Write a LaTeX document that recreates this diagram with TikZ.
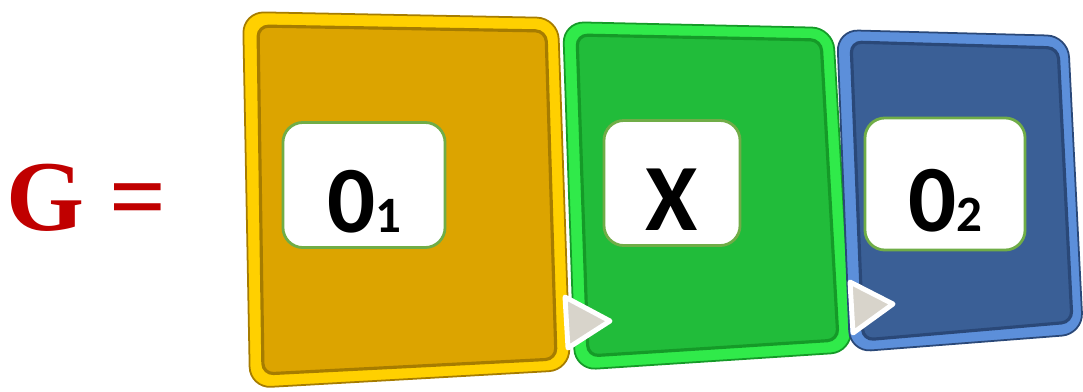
\documentclass[tikz,border=0pt]{standalone}
\usepackage{fontspec}
\setmainfont{Liberation Serif}
\newfontfamily\tagfont{Carlito}

\definecolor{gred}{HTML}{C00000}
\definecolor{yellowrim}{HTML}{FFD000}
\definecolor{yellowface}{HTML}{DCA400}
\definecolor{yellowdark}{HTML}{A67C00}
\definecolor{greenrim}{HTML}{30EA4A}
\definecolor{greenface}{HTML}{21BC3A}
\definecolor{greendark}{HTML}{159A28}
\definecolor{bluerim}{HTML}{5C8FDA}
\definecolor{blueface}{HTML}{3A5F96}
\definecolor{bluedark}{HTML}{2A4878}
\definecolor{tagline}{HTML}{70AD47}
\definecolor{markergrey}{HTML}{D8D4CB}

\tikzset{
  rim/.style={rounded corners=6pt, line width=0.5pt},
  face/.style={rounded corners=3pt, line width=0.9pt},
  tagbox/.style={draw=tagline, fill=white, line width=0.8pt, rounded corners=0.2cm,
    font=\tagfont\bfseries\fontsize{27}{27}\selectfont,
    text height=0.94cm, text depth=0pt, inner sep=0pt},
  marker/.style={fill=markergrey, draw=white, line width=1.4pt, line join=round},
}

\newcommand{\sub}[1]{{\fontsize{14.5}{14.5}\selectfont #1}}

\begin{document}
\begin{tikzpicture}[x=0.01cm, y=-0.01cm]
\useasboundingbox (0,0) rectangle (1083,391);

% left hand side
\node[font=\bfseries\fontsize{28.5}{28.5}\selectfont, text=gred, anchor=base west, inner sep=0pt] (lhs) at (6,230) {G =};

% first panel
\filldraw[rim, fill=yellowrim, draw=yellowdark] (243,12) -- (558,18) -- (570,370) -- (250,388) -- cycle;
\filldraw[face, fill=yellowface, draw=yellowdark] (258,26) -- (546,31) -- (556,359) -- (263,374) -- cycle;

% second panel
\filldraw[rim, fill=greenrim, draw=greendark] (563,22) -- (833,28) -- (852,352) -- (575,370) -- cycle;
\filldraw[face, fill=greenface, draw=greendark] (577,35) -- (821,40) -- (838,340) -- (588,356) -- cycle;
\filldraw[marker] (565,297) -- (610,321) -- (568,348) -- cycle;

% third panel
\filldraw[rim, fill=bluerim, draw=bluedark] (837,30) -- (1068,36) -- (1083,334) -- (850,352) -- cycle;
\filldraw[face, fill=blueface, draw=bluedark] (851,42) -- (1058,48) -- (1072,322) -- (863,340) -- cycle;
\filldraw[marker] (850,282) -- (893,304) -- (853,333) -- cycle;

% labels
\node[tagbox, minimum width=1.62cm, minimum height=1.25cm] (o1) at (364,185) {0\sub{1}};
\node[tagbox, minimum width=1.36cm, minimum height=1.25cm] (x) at (672,183) {X};
\node[tagbox, minimum width=1.60cm, minimum height=1.32cm] (o2) at (945,184) {0\sub{2}};

\end{tikzpicture}
\end{document}
